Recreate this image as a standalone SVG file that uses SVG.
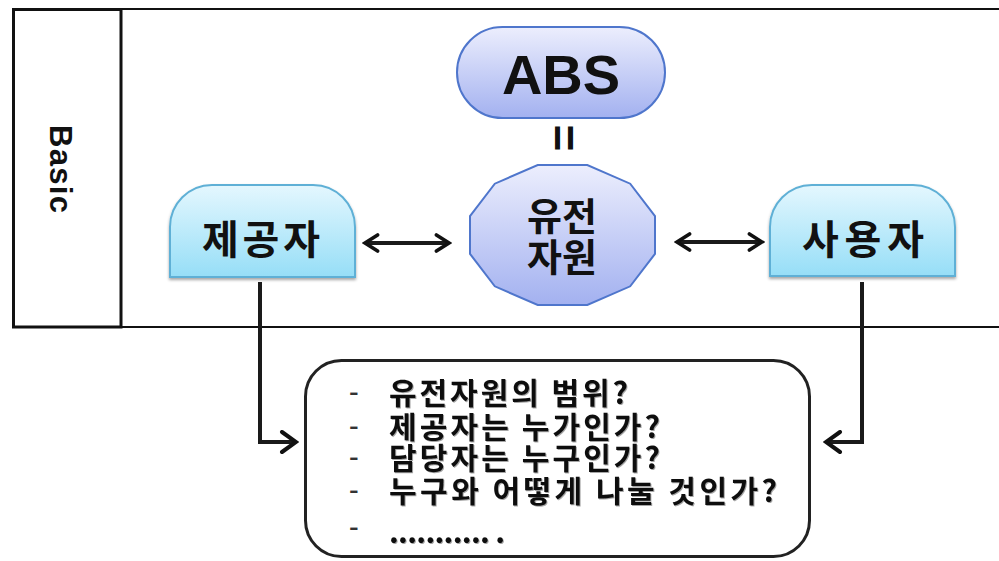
<svg xmlns="http://www.w3.org/2000/svg" width="999" height="561" viewBox="0 0 999 561">
  <defs>
    <linearGradient id="gBlue" x1="0" y1="0" x2="0" y2="1">
      <stop offset="0" stop-color="#eceefd"/>
      <stop offset="1" stop-color="#a3b1f0"/>
    </linearGradient>
    <linearGradient id="gCyan" x1="0" y1="0" x2="0" y2="1">
      <stop offset="0" stop-color="#e4f7fe"/>
      <stop offset="1" stop-color="#96def7"/>
    </linearGradient>
    <filter id="shadow" x="-10%" y="-10%" width="120%" height="130%">
      <feDropShadow dx="0" dy="2" stdDeviation="1.5" flood-color="#000" flood-opacity="0.35"/>
    </filter>
    <filter id="tshadow" x="-5%" y="-20%" width="110%" height="140%">
      <feDropShadow dx="1" dy="1" stdDeviation="0.7" flood-color="#000" flood-opacity="0.35"/>
    </filter>
    <marker id="chev" viewBox="0 0 20 24" refX="17" refY="12" markerWidth="20" markerHeight="24" markerUnits="userSpaceOnUse" orient="auto-start-reverse">
      <path d="M3,2 L17,12 L3,22" fill="none" stroke="#111" stroke-width="4" stroke-linecap="round" stroke-linejoin="miter"/>
    </marker>
    <marker id="chevS" viewBox="0 0 20 24" refX="17" refY="12" markerWidth="18" markerHeight="22" markerUnits="userSpaceOnUse" orient="auto-start-reverse">
      <path d="M3,3 L17,12 L3,21" fill="none" stroke="#111" stroke-width="4" stroke-linecap="round"/>
    </marker>
    <style>
      .frame { fill: none; stroke: #111; }
      .kr { font-family: "Noto Sans CJK KR", "Noto Sans", sans-serif; font-weight: 700; fill: #111; }
      .lat { font-family: "Liberation Sans", Arial, sans-serif; font-weight: 700; fill: #111; }
      .blue { fill: url(#gBlue); stroke: #4f76cc; stroke-width: 2; }
      .cyan { fill: url(#gCyan); stroke: #5fb0d6; stroke-width: 2; }
      .conn { fill: none; stroke: #1a1a1a; stroke-width: 4; }
      .item { font-size: 30px; }
      .dash { font-family: "Noto Sans", sans-serif; font-weight: 400; font-size: 30px; fill: #333; }
    </style>
  </defs>

  <!-- table frame: label cell + content cell -->
  <g id="frame">
    <rect class="frame" x="121" y="9" width="900" height="318" stroke-width="2"/>
    <rect class="frame" x="13.5" y="9.5" width="107.5" height="317.5" stroke-width="3"/>
    <text class="lat" font-size="31" text-anchor="middle" textLength="88" lengthAdjust="spacing" transform="translate(50,169) rotate(90)">Basic</text>
  </g>

  <g id="abs">
    <rect class="blue" x="457" y="27" width="208" height="91" rx="45.5"/>
    <text class="lat" x="561" y="94" font-size="56" text-anchor="middle">ABS</text>
  </g>

  <g id="equals">
    <text class="lat" font-size="46" text-anchor="middle" transform="translate(563,138) rotate(90)" dy="0.33em">=</text>
  </g>

  <g id="genetic-resource">
    <polygon class="blue" points="655,253.8 630.2,286.3 587.3,305 537.7,305 494.8,286.3 470,253.8 470,216.2 494.8,183.7 537.7,165 587.3,165 630.2,183.7 655,216.2"/>
    <text class="kr" x="562" y="230" font-size="38" text-anchor="middle">유전</text>
    <text class="kr" x="562" y="271" font-size="38" text-anchor="middle">자원</text>
  </g>

  <g id="provider">
    <path class="cyan" filter="url(#shadow)" d="M170,277 V227 A42,42 0 0 1 212,185 H313 A42,42 0 0 1 355,227 V277 Z"/>
    <text class="kr" x="261" y="254" font-size="40" text-anchor="middle" textLength="118" lengthAdjust="spacing">제공자</text>
  </g>

  <g id="user">
    <path class="cyan" filter="url(#shadow)" d="M770,276 V227 A42,42 0 0 1 812,185 H913 A42,42 0 0 1 955,227 V276 Z"/>
    <text class="kr" x="863" y="254" font-size="40" text-anchor="middle" textLength="122" lengthAdjust="spacing">사용자</text>
  </g>

  <g id="questions">
    <rect x="305.5" y="360.5" width="504" height="196" rx="36" fill="#fff" stroke="#222" stroke-width="3"/>
    <g class="dash">
      <text x="349" y="402">-</text>
      <text x="349" y="436">-</text>
      <text x="349" y="467">-</text>
      <text x="349" y="500">-</text>
      <text x="349" y="537">-</text>
    </g>
    <g class="kr item" filter="url(#tshadow)">
      <text x="389" y="404" textLength="239" lengthAdjust="spacing">유전자원의 범위?</text>
      <text x="389" y="438" textLength="271" lengthAdjust="spacing">제공자는 누가인가?</text>
      <text x="389" y="469" textLength="271" lengthAdjust="spacing">담당자는 누구인가?</text>
      <text x="389" y="502" textLength="388" lengthAdjust="spacing">누구와 어떻게 나눌 것인가?</text>
      <text x="389" y="543" textLength="116" lengthAdjust="spacing">........... .</text>
    </g>
  </g>

  <g id="connectors">
    <line class="conn" x1="365" y1="243" x2="449" y2="243" marker-start="url(#chevS)" marker-end="url(#chevS)"/>
    <line class="conn" x1="677" y1="242" x2="762" y2="242" marker-start="url(#chevS)" marker-end="url(#chevS)"/>
    <polyline class="conn" points="260,282 260,442 296,442" marker-end="url(#chev)"/>
    <polyline class="conn" points="862,282 862,442 826,442" marker-end="url(#chev)"/>
  </g>
</svg>
